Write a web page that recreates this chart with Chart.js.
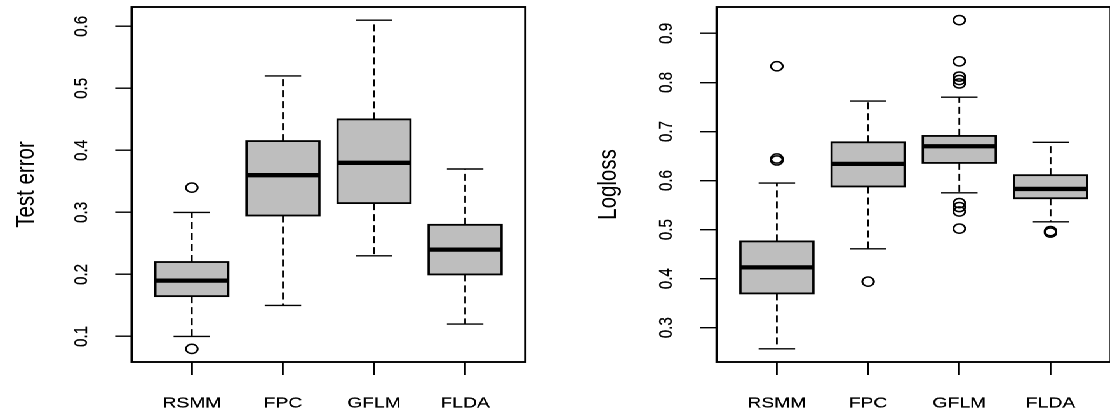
<!DOCTYPE html>
<html>
<head>
<meta charset="utf-8">
<script src="https://cdn.jsdelivr.net/npm/chart.js@4.4.1/dist/chart.umd.min.js"></script>
<style>
  html, body { margin: 0; padding: 0; background: #fff; overflow: hidden; }
  /* the whole figure is drawn narrow and stretched sideways */
  #stage { position: absolute; left: 0; top: 0; width: 882px; height: 419px; transform: scaleX(1.27); transform-origin: 0 0; }
  #stage canvas { position: absolute; top: 0; }
</style>
</head>
<body>
<div id="stage">
  <canvas id="errChart" width="437" height="419" style="left:0"></canvas>
  <canvas id="lossChart" width="445" height="419" style="left:437px"></canvas>
</div>
<script>
var methods = ['RSMM', 'FPC', 'GFLM', 'FLDA'];

// test error: whisker ends, quartiles, medians, outliers
var errLow  = [0.10, 0.15, 0.23, 0.12];
var errQ1   = [0.165, 0.295, 0.315, 0.20];
var errMed  = [0.19, 0.36, 0.38, 0.24];
var errQ3   = [0.22, 0.415, 0.45, 0.28];
var errHigh = [0.30, 0.52, 0.61, 0.37];
var errOut  = [[0.34, 0.08], [], [], []];
var errTicks = [0.1, 0.2, 0.3, 0.4, 0.5, 0.6];

// logloss
var lossLow  = [0.257, 0.461, 0.575, 0.516];
var lossQ1   = [0.370, 0.588, 0.636, 0.564];
var lossMed  = [0.423, 0.634, 0.670, 0.583];
var lossQ3   = [0.476, 0.678, 0.691, 0.611];
var lossHigh = [0.595, 0.762, 0.770, 0.678];
var lossOut  = [[0.833, 0.645, 0.641], [0.394], [0.927, 0.843, 0.812, 0.805, 0.798, 0.554, 0.546, 0.537, 0.502], [0.497, 0.494]];
var lossTicks = [0.3, 0.4, 0.5, 0.6, 0.7, 0.8, 0.9];

var FONT = '"Liberation Sans", Arial, Helvetica, sans-serif';
var INK = '#000';
var BOXWEX = 0.8;

function line(ctx, x1, y1, x2, y2) {
    ctx.beginPath();
    ctx.moveTo(x1, y1);
    ctx.lineTo(x2, y2);
    ctx.stroke();
}

// boxes, whiskers and staples, drawn under the outlier points
var rBoxplot = {
    id: 'rBoxplot',
    beforeDatasetsDraw: function(chart, args, o) {
        var ctx = chart.ctx, x = chart.scales.x, y = chart.scales.y;
        ctx.save();
        ctx.strokeStyle = INK;
        o.med.forEach(function(m, i) {
            var c = i + 1;
            var xc = x.getPixelForValue(c);
            var xl = x.getPixelForValue(c - BOXWEX / 2), xr = x.getPixelForValue(c + BOXWEX / 2);
            var sl = x.getPixelForValue(c - BOXWEX / 4), sr = x.getPixelForValue(c + BOXWEX / 4);
            var yLo = y.getPixelForValue(o.low[i]), yHi = y.getPixelForValue(o.high[i]);
            var y1 = y.getPixelForValue(o.q1[i]), y3 = y.getPixelForValue(o.q3[i]);
            var ym = y.getPixelForValue(m);

            ctx.lineWidth = 1.4;
            ctx.setLineDash([7, 4]);
            line(ctx, xc, y3, xc, yHi);
            line(ctx, xc, y1, xc, yLo);
            ctx.setLineDash([]);
            line(ctx, sl, yHi, sr, yHi);
            line(ctx, sl, yLo, sr, yLo);

            ctx.fillStyle = '#bebebe';
            ctx.fillRect(xl, y3, xr - xl, y1 - y3);
            ctx.lineWidth = 1.8;
            ctx.strokeRect(xl, y3, xr - xl, y1 - y3);

            ctx.lineWidth = 4.3;
            line(ctx, xl, ym, xr, ym);
        });
        ctx.restore();
    },
    afterDraw: function(chart) {
        var a = chart.chartArea, ctx = chart.ctx;
        ctx.save();
        ctx.strokeStyle = INK;
        ctx.lineWidth = 1.9;
        ctx.strokeRect(a.left, a.top, a.right - a.left, a.bottom - a.top);
        ctx.restore();
    }
};

function panel(id, title, ticks, low, q1, med, q3, high, out, axisW, padRight, titlePad) {
    var pts = [];
    out.forEach(function(vals, i) {
        vals.forEach(function(v) { pts.push({ x: i + 1, y: v }); });
    });
    var all = low.concat(high, [].concat.apply([], out));
    var lo = Math.min.apply(null, all), hi = Math.max.apply(null, all);
    var pad = (hi - lo) * 0.04;
    var grid = { drawOnChartArea: false, drawTicks: true, tickLength: 13, color: INK, lineWidth: 1.4 };
    var tickFont = { family: FONT, size: 15.2 };

    return new Chart(document.getElementById(id), {
        type: 'scatter',
        data: { datasets: [{
            data: pts, pointStyle: 'circle', pointRadius: 4.6, borderWidth: 1.5,
            borderColor: INK, backgroundColor: 'rgba(0,0,0,0)'
        }] },
        options: {
            responsive: false, animation: false, devicePixelRatio: 2,
            layout: { padding: { top: 7, right: padRight, left: 0, bottom: 0 } },
            plugins: {
                legend: { display: false }, tooltip: { enabled: false },
                rBoxplot: { low: low, q1: q1, med: med, q3: q3, high: high }
            },
            scales: {
                x: {
                    type: 'linear', min: 0.5 - 0.04 * 4, max: 4.5 + 0.04 * 4,
                    afterBuildTicks: function(s) { s.ticks = methods.map(function(m, i) { return { value: i + 1 }; }); },
                    afterFit: function(s) { s.height = 57; s.paddingLeft = 0; s.paddingRight = 0; },
                    ticks: {
                        autoSkip: false, maxRotation: 0, padding: 19, color: INK,
                        textStrokeColor: INK, textStrokeWidth: 0.2,
                        font: tickFont,
                        callback: function(v) { return methods[v - 1]; }
                    },
                    grid: grid, border: { display: false }
                },
                y: {
                    type: 'linear', min: lo - pad, max: hi + pad,
                    afterBuildTicks: function(s) { s.ticks = ticks.map(function(v) { return { value: v }; }); },
                    // keep the rotated labels from pushing the plot area down
                    afterFit: function(s) { s.width = axisW; s.paddingTop = 0; s.paddingBottom = 0; },
                    ticks: {
                        minRotation: 90, maxRotation: 90, crossAlign: 'center', padding: 16, color: INK,
                        textStrokeColor: INK, textStrokeWidth: 0.2,
                        font: tickFont,
                        callback: function(v) { return v.toFixed(1); }
                    },
                    grid: grid, border: { display: false },
                    title: { display: true, text: title, color: INK, font: { family: FONT, size: 20.5 }, padding: { top: titlePad, bottom: 0 } }
                }
            }
        },
        plugins: [rBoxplot]
    });
}

panel('errChart', 'Test error', errTicks, errLow, errQ1, errMed, errQ3, errHigh, errOut, 103.7, 23.4, 8.3);
panel('lossChart', 'Logloss', lossTicks, lossLow, lossQ1, lossMed, lossQ3, lossHigh, lossOut, 127.3, 7.4, 29.8);
</script>
</body>
</html>
